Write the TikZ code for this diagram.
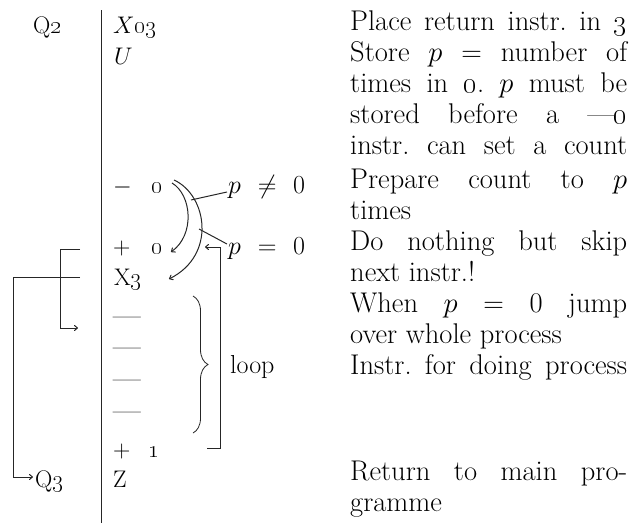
\RequirePackage{fix-cm}
\documentclass[tikz,border=0pt]{standalone}
\usetikzlibrary{arrows.meta,decorations.pathreplacing}
\newlength\colw \setlength\colw{277pt}
\newcommand\jl[1]{\makebox[\colw][s]{#1}}
\newcommand\osn[1]{\oldstylenums{#1}}
\frenchspacing
\begin{document}
\begin{tikzpicture}[x=1pt,y=-1pt,
  txt/.style={anchor=base west,inner sep=0pt,text=black,font=\fontsize{28.5}{31}\selectfont},
  lft/.style={anchor=base west,inner sep=0pt,text=black,font=\fontsize{24}{28}\selectfont},
  mid/.style={anchor=base west,inner sep=0pt,text=black,font=\fontsize{26}{30}\selectfont},
  dsh/.style={anchor=base west,inner sep=0pt,text=black,font=\fontsize{30}{30}\selectfont},
  conn/.style={line width=1pt,draw=black!85},
  arr/.style={conn,-{To[length=4pt,width=6pt]}},
]
\useasboundingbox (0,0) rectangle (629,523);
% vertical rule
\coordinate (v1) at (101,10);
\coordinate (v2) at (101,523);
\draw[conn] (v1) -- (v2);

% left labels
\node[lft] (q2) at (33,33) {Q\osn{2}};
\node[lft] (q3) at (35,487) {Q\osn{3}};

% instruction column
\node[lft] (x03) at (113,33) {$X$\osn{03}};
\node[lft] (u) at (114,64) {$U$};
\node[lft] (m0) at (113,193) {\makebox[50pt][s]{$-$ \osn{0}}};
\node[lft] (p0) at (113,254) {\makebox[50pt][s]{$+$ \osn{0}}};
\node[lft] (x3) at (114,285) {X\osn{3}};
\node[dsh] (d1) at (113,325) {---};
\node[dsh] (d2) at (113,356) {---};
\node[dsh] (d3) at (113,388) {---};
\node[dsh] (d4) at (113,420) {---};
\node[lft] (p1) at (113,457) {\makebox[47pt][s]{$+$ \osn{1}}};
\node[lft] (z) at (113,487) {Z};

% conditions
\node[mid] (pne) at (228,193) {\makebox[77pt][s]{$p$ $\neq$ $0$}};
\node[mid] (peq) at (228,254) {\makebox[77pt][s]{$p$ $=$ $0$}};
\node[mid] (loop) at (230,373) {loop};

% comments
\node[txt] (r1) at (350,30) {\jl{Place return instr. in \osn{3}}};
\node[txt] (r2) at (350,61) {\jl{Store $p$ $=$ number of}};
\node[txt] (r3) at (350,92) {\jl{times in \osn{0}. $p$ must be}};
\node[txt] (r4) at (350,123) {\jl{stored before a ---\osn{0}}};
\node[txt] (r5) at (350,154) {\jl{instr. can set a count}};
\node[txt] (r6) at (350,188) {\jl{Prepare count to $p$}};
\node[txt] (r7) at (350,219) {times};
\node[txt] (r8) at (350,250) {\jl{Do nothing but skip}};
\node[txt] (r9) at (350,281) {next instr.!};
\node[txt] (r10) at (350,312) {\jl{When $p$ $=$ 0 jump}};
\node[txt] (r11) at (350,343) {over whole process};
\node[txt] (r12) at (350,374) {\jl{Instr. for doing process}};
\node[txt] (r13) at (350,480) {\jl{Return to main pro-}};
\node[txt] (r14) at (350,511) {gramme};

% left connectors
\coordinate (a1) at (80,249);
\coordinate (a2) at (60,249);
\coordinate (a3) at (60,328);
\coordinate (a4) at (78,328);
\draw[arr] (a1) -- (a2) -- (a3) -- (a4);
\coordinate (b1) at (80,277);
\coordinate (b2) at (13,277);
\coordinate (b3) at (33,477);
\draw[arr] (b1) -- (b2) |- (b3);

% curved arrows
\coordinate (c1s) at (172,183);
\coordinate (c1e) at (171,252);
\draw[arr] (c1s) .. controls (192,195) and (195,235) .. (c1e);
\coordinate (c2s) at (174,180);
\coordinate (c2e) at (169,279);
\draw[arr] (c2s) .. controls (207,195) and (217,255) .. (c2e);
\coordinate (f1) at (227,192);
\coordinate (f2) at (191,200);
\draw[conn] (f1) -- (f2);
\coordinate (g1) at (227,244);
\coordinate (g2) at (199,229);
\draw[conn] (g1) -- (g2);

% right bracket
\coordinate (e1) at (207,448);
\coordinate (e2) at (220,448);
\coordinate (e3) at (220,247);
\coordinate (e4) at (205,247);
\draw[arr] (e1) -- (e2) -- (e3) -- (e4);

% brace
\coordinate (h1) at (193,296);
\coordinate (h2) at (193,433);
\draw[line width=0.8pt,draw=black!85,decorate,decoration={brace,amplitude=15pt}] (h1) -- (h2);
\end{tikzpicture}
\end{document}
